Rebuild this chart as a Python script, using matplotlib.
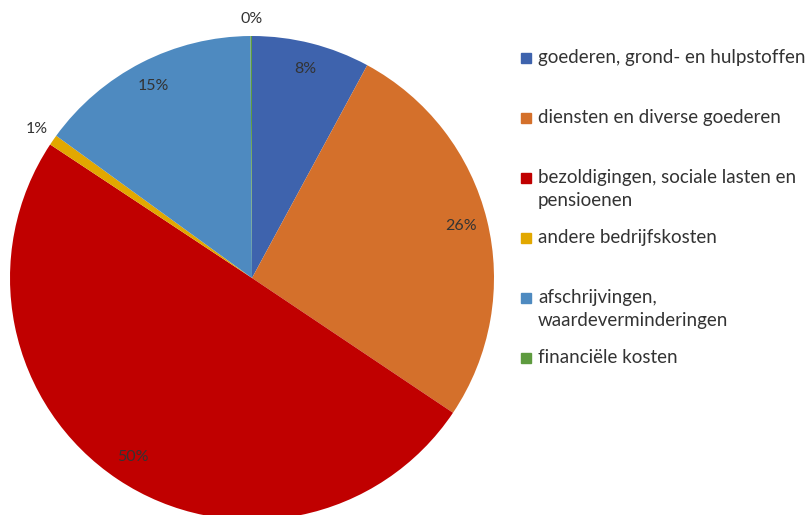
import numpy as np
import matplotlib
matplotlib.use("Agg")
import matplotlib.pyplot as plt
from matplotlib.patches import Rectangle

# cost shares (%)
categories = ["goederen, grond- en hulpstoffen",
              "diensten en diverse goederen",
              "bezoldigingen, sociale lasten en\npensioenen",
              "andere bedrijfskosten",
              "afschrijvingen,\nwaardeverminderingen",
              "financiële kosten"]
shares = [7.9, 26.5, 49.9, 0.7, 14.9, 0.1]
colors = ["#3E63AD", "#D4702B", "#C00000", "#E2A800", "#4E8AC0", "#5E9B3F"]

plt.rcParams['font.family'] = ['Lato', 'DejaVu Sans']
txt_col = "#333333"

W, H = 806, 515
fig = plt.figure(figsize=(W / 100, H / 100), dpi=100)

# pie centre and radius in pixels
cx, cy, R = 252, 278, 242
ax = fig.add_axes([(cx - R) / W, (H - cy - R) / H, 2 * R / W, 2 * R / H])

wedges, texts, autotexts = ax.pie(
    shares, colors=colors, startangle=90, counterclock=False,
    autopct='%.0f%%', pctdistance=0.89, radius=1,
    wedgeprops=dict(linewidth=0),
    textprops=dict(color=txt_col, fontsize=11.5))
ax.set_xlim(-1, 1)
ax.set_ylim(-1, 1)
ax.set_aspect('equal')

# small slices get their labels outside the pie
for w, t, v in zip(wedges, autotexts, shares):
    if v < 2:
        ang = np.deg2rad((w.theta1 + w.theta2) / 2)
        t.set_position((1.08 * np.cos(ang), 1.08 * np.sin(ang)))
for w, t, v in zip(wedges, autotexts, shares):
    if v < 0.5:
        t.set_position((0, 1.07))

# legend drawn by hand to keep the uneven row spacing
for i, (lab, col) in enumerate(zip(categories, colors)):
    yc = 58 + i * 60
    fig.patches.append(Rectangle((521 / W, 1 - (yc + 5) / H), 10 / W, 10 / H,
                                 transform=fig.transFigure, color=col))
    fig.text(538 / W, 1 - (yc - 9) / H, lab, fontsize=13.5, color=txt_col,
             va='top', ha='left', linespacing=1.42)

fig.savefig("out.png", dpi=100)
